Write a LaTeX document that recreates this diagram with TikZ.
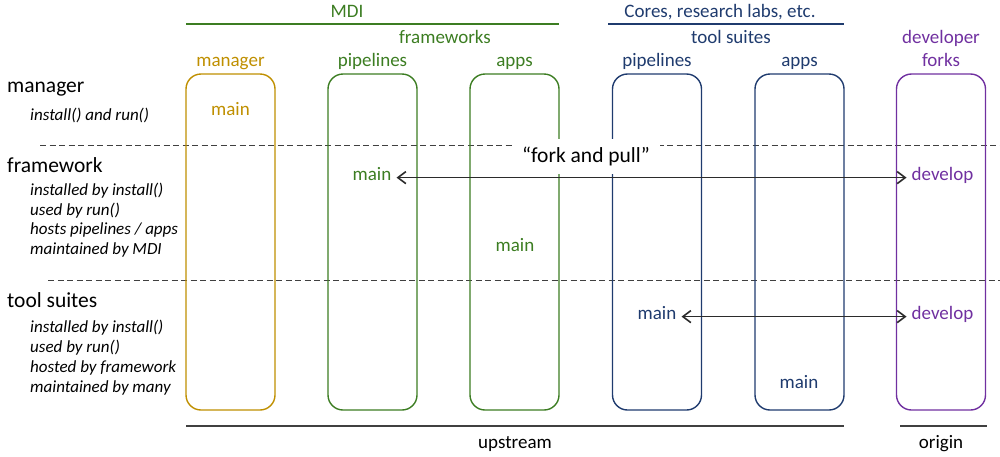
\documentclass[tikz,border=0pt]{standalone}
\usepackage{fontspec}
\setmainfont{Carlito}
\usetikzlibrary{arrows.meta}
\definecolor{mgrcol}{HTML}{BF8F00}
\definecolor{mdicol}{HTML}{3C7D22}
\definecolor{tscol}{HTML}{1F3B6E}
\definecolor{devcol}{HTML}{7030A0}
\definecolor{linecol}{HTML}{404040}
\definecolor{arrcol}{HTML}{2B2B2B}
\begin{document}
\begin{tikzpicture}[x=1pt, y=-1pt, every node/.style={inner sep=0pt},
	repo/.style={draw, rounded corners=15pt, line width=1.4pt,
		minimum width=89pt, minimum height=336pt},
	lbl/.style={font=\fontsize{19}{22}\selectfont, anchor=base},
	branch/.style={lbl, inner xsep=5pt},
	head/.style={font=\fontsize{21.5}{25}\selectfont, anchor=base west},
	note/.style={font=\fontsize{17}{20}\selectfont\itshape, anchor=base west},
	tier/.style={draw=linecol, line width=0.9pt, dash pattern=on 6pt off 3.5pt},
	fork/.style={{Straight Barb[length=8pt,width=12pt]}-{Straight Barb[length=8pt,width=12pt]},
		draw=arrcol, line width=1.6pt}]
	\useasboundingbox (0,0) rectangle (1000,456);

	% tiers
	\draw[tier] (40,145) -- (1000,145);
	\draw[tier] (48,280) -- (1000,280);

	% repositories
	\node[repo, draw=mgrcol] (M) at (230.5,242) {};
	\node[repo, draw=mdicol] (FP) at (372.5,242) {};
	\node[repo, draw=mdicol] (FA) at (514.5,242) {};
	\node[repo, draw=tscol] (TP) at (657,242) {};
	\node[repo, draw=tscol] (TA) at (799.5,242) {};
	\node[repo, draw=devcol] (D) at (941,242) {};

	% groups
	\node[lbl, text=mdicol] (MDI) at (347,17) {MDI};
	\draw[draw=mdicol, line width=1.5pt] (186,24) -- (559,24);
	\node[lbl, text=tscol] (CORES) at (720,17) {Cores, research labs, etc.};
	\draw[draw=tscol, line width=1.5pt] (608,24) -- (844,24);
	\node[lbl, text=mdicol] (FW) at (445,43) {frameworks};
	\node[lbl, text=tscol] (TS) at (731,43) {tool suites};
	\node[lbl, text=devcol] (DEVhead) at (941,43) {developer};

	% columns
	\node[lbl, text=mgrcol] (Mhead) at (230.5,66) {manager};
	\node[lbl, text=mdicol] (FPhead) at (372.5,66) {pipelines};
	\node[lbl, text=mdicol] (FAhead) at (514.5,66) {apps};
	\node[lbl, text=tscol] (TPhead) at (657,66) {pipelines};
	\node[lbl, text=tscol] (TAhead) at (799.5,66) {apps};
	\node[lbl, text=devcol] (Dhead) at (941,66) {forks};

	% branches
	\node[branch, text=mgrcol] (Mmain) at (230.5,115) {main};
	\node[branch, text=mdicol] (FPmain) at (372,180) {main};
	\node[branch, text=mdicol] (FAmain) at (515,251) {main};
	\node[branch, text=tscol] (TPmain) at (657,319) {main};
	\node[branch, text=tscol] (TAmain) at (799,388) {main};
	\node[branch, text=devcol] (Ddev) at (942.5,180) {develop};
	\node[branch, text=devcol] (Ddev2) at (942.5,319) {develop};

	\node[fill=white, minimum width=148pt, minimum height=35pt,
		font=\fontsize{21.5}{25}\selectfont] (FAP) at (586,156) {“fork and pull”};
	\draw[fork] (FPmain.mid east) -- (Ddev.mid west);
	\draw[fork] (TPmain.mid east) -- (Ddev2.mid west);

	% levels
	\node[head] (Lmgr) at (7,92) {manager};
	\node[note] (Lmgr1) at (30,120) {install() and run()};
	\node[head] (Lfw) at (7,172) {framework};
	\node[note] (Lfw1) at (30,195) {installed by install()};
	\node[note] (Lfw2) at (30,215) {used by run()};
	\node[note] (Lfw3) at (30,234) {hosts pipelines / apps};
	\node[note] (Lfw4) at (30,254) {maintained by MDI};
	\node[head] (Lts) at (7,307) {tool suites};
	\node[note] (Lts1) at (30,332) {installed by install()};
	\node[note] (Lts2) at (30,352) {used by run()};
	\node[note] (Lts3) at (30,372) {hosted by framework};
	\node[note] (Lts4) at (30,392) {maintained by many};

	% upstream and origin
	\draw[draw=linecol, line width=2pt] (186,426) -- (844,426);
	\node[lbl] (UP) at (515,448) {upstream};
	\draw[draw=linecol, line width=2pt] (900,426) -- (987,426);
	\node[lbl] (ORIG) at (941,448) {origin};
\end{tikzpicture}
\end{document}
